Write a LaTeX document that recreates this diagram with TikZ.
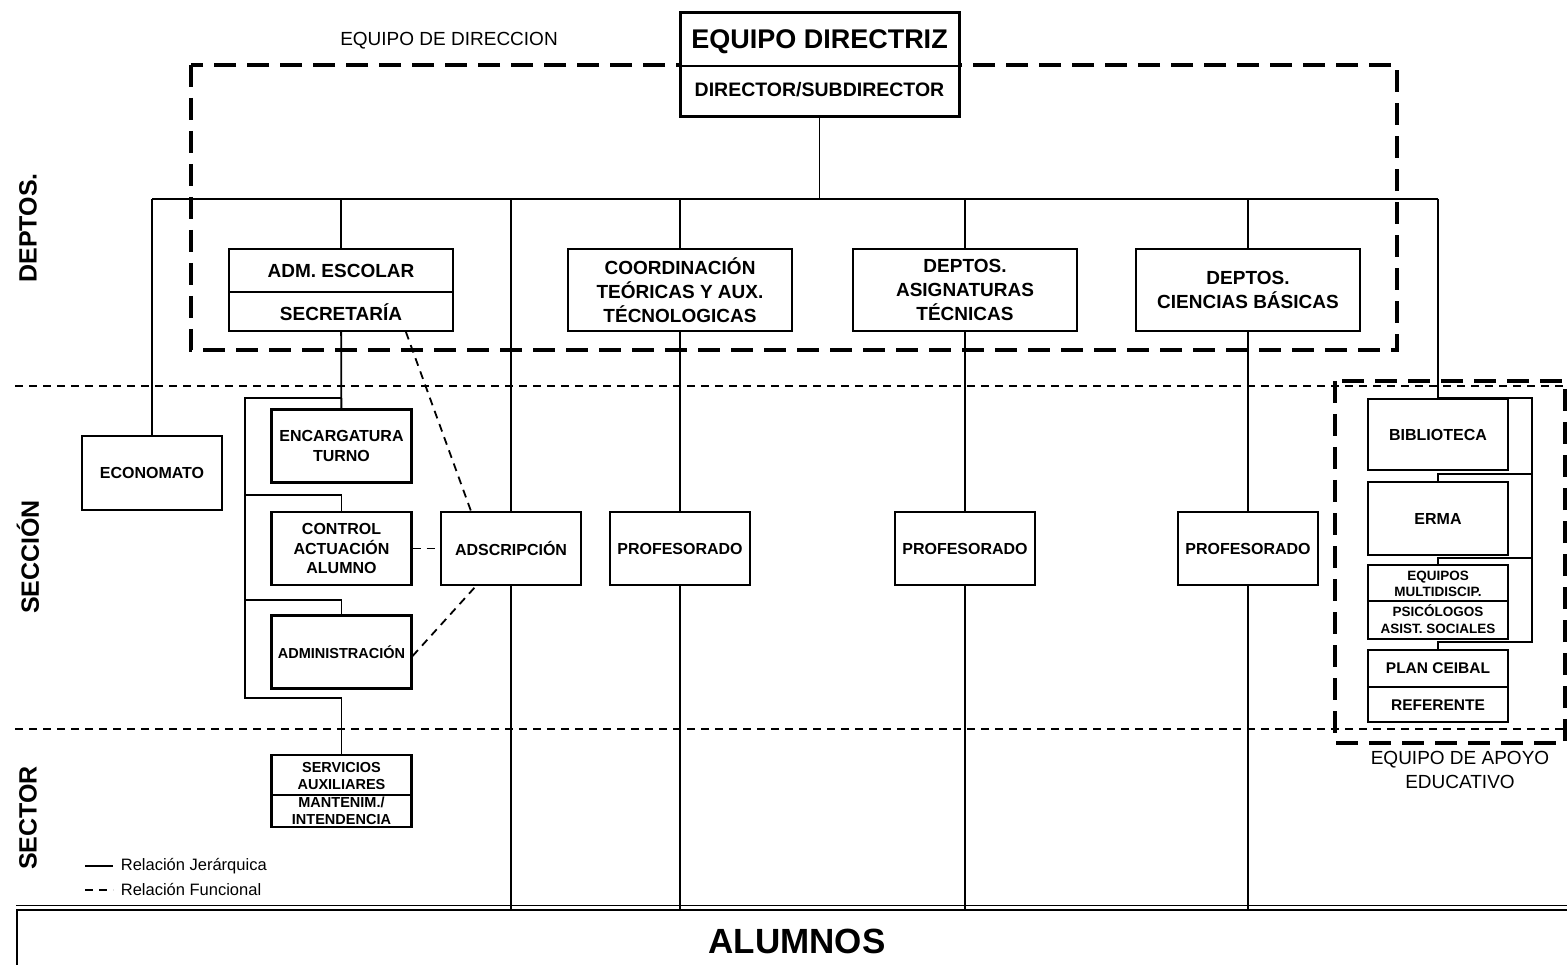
\documentclass[tikz,border=0pt]{standalone}
\usepackage{fontspec}
\setmainfont{Liberation Sans}
\usetikzlibrary{positioning, shapes}

\begin{document}
\begin{tikzpicture}[x=1pt, y=-1pt,
	dbox/.style={draw, line width=1.8pt, fill=white, inner sep=0pt, align=center, minimum width=224pt, minimum height=82pt, font=\bfseries\fontsize{19}{24}\selectfont},
	sbox/.style={draw, line width=2.2pt, fill=white, inner sep=0pt, align=center, minimum width=140pt, minimum height=73pt, font=\bfseries\fontsize{16}{19.5}\selectfont},
	stext/.style={inner sep=0pt, align=center, font=\bfseries\fontsize{14.5}{17.5}\selectfont},
	jer/.style={line width=1.8pt},
	fun/.style={line width=1.8pt, dash pattern=on 8pt off 6pt},
	bigdash/.style={line width=3.5pt, dash pattern=on 22pt off 11pt},
	level/.style={line width=1.3pt, dash pattern=on 8pt off 6pt},
	lvl/.style={rotate=90, font=\bfseries\fontsize{25}{25}\selectfont},
	legend/.style={right, inner sep=7pt, font=\fontsize{16.5}{16.5}\selectfont},
]

\useasboundingbox (0,0) rectangle (1567,965);

\def \busy{199}
\def \brkx{245}

% levels
\draw[level] (15,386) -- (1567,386); % deptos / seccion
\draw[level] (15,729) -- (1567,729); % seccion / sector

\node[lvl] (lvdeptos) at (28,228) {DEPTOS.};
\node[lvl] (lvseccion) at (28,557) {SECCIÓN};
\node[lvl] (lvsector) at (28,818) {SECTOR};

% equipo de direccion
\draw[bigdash] (191,65) rectangle (1397,350);
\node[font=\fontsize{19}{19}\selectfont] (eqdir) at (449,41) {EQUIPO DE DIRECCION};

\node[draw, line width=3pt, fill=white, minimum width=279pt, minimum height=104pt] (dir) at (819.5,65) {};
\draw[line width=1.8pt] (dir.west |- 0,66) -- (dir.east |- 0,66);
\node[font=\bfseries\fontsize{27}{27}\selectfont] (dirt) at (819.5,42) {EQUIPO DIRECTRIZ};
\node[font=\bfseries\fontsize{19.5}{19.5}\selectfont] (dirs) at (819.5,90) {DIRECTOR/SUBDIRECTOR};

\coordinate (busL) at (152,\busy);
\coordinate (busR) at (1438,\busy);

% deptos
\node[dbox] (adm) at (341,290) {};
\draw[line width=1.8pt] (adm.west |- 0,292) -- (adm.east |- 0,292);
\node[font=\bfseries\fontsize{19}{19}\selectfont] (admt) at (341,271) {ADM. ESCOLAR};
\node[font=\bfseries\fontsize{19}{19}\selectfont] (secr) at (341,312) {SECRETARÍA};
\node[dbox] (coord) at (680,290) {COORDINACIÓN\\TEÓRICAS Y AUX.\\TÉCNOLOGICAS};
\node[dbox] (asig) at (965,290) {DEPTOS.\\ASIGNATURAS\\TÉCNICAS};
\node[dbox] (cien) at (1248,290) {DEPTOS.\\CIENCIAS BÁSICAS};

% seccion
\node[sbox, minimum height=74pt] (econ) at (152,473) {ECONOMATO};
\node[sbox] (enc) at (341.5,446) {ENCARGATURA\\TURNO};
\node[sbox] (ctrl) at (341.5,548.5) {CONTROL\\ACTUACIÓN\\ALUMNO};
\node[sbox, font=\bfseries\fontsize{14.5}{19.5}\selectfont] (admin) at (341.5,652) {ADMINISTRACIÓN};
\node[sbox] (adsc) at (511,548.5) {ADSCRIPCIÓN};
\foreach \px/\pn in {680/1, 965/2, 1248/3}
	\node[sbox] (prof\pn) at (\px,548.5) {PROFESORADO};

% sector
\node[sbox, minimum height=72pt] (srv) at (341.5,791) {};
\draw[line width=1.8pt] (srv.west |- 0,795) -- (srv.east |- 0,795);
\node[stext] (srvt) at (341.5,776) {SERVICIOS\\AUXILIARES};
\node[stext] (mant) at (341.5,811) {MANTENIM./\\INTENDENCIA};

% alumnos
\node[draw, line width=2.2pt, minimum width=1560pt, minimum height=62pt, font=\bfseries\fontsize{35}{35}\selectfont] (alum) at (797,941) {ALUMNOS};
\draw[line width=1pt] ([yshift=3.5pt]alum.north west) -- ([yshift=3.5pt]alum.north east);

% equipo de apoyo educativo
\draw[bigdash] (1335,381) rectangle (1565,743);
\node[sbox, minimum height=71pt] (biblio) at (1438,434.5) {BIBLIOTECA};
\node[sbox] (erma) at (1438,518.5) {ERMA};
\node[sbox, minimum height=74pt] (equip) at (1438,602) {};
\draw[line width=1.8pt] (equip.west |- 0,601) -- (equip.east |- 0,601);
\node[stext, font=\bfseries\fontsize{13.5}{16.5}\selectfont] (equipt) at (1438,584) {EQUIPOS\\MULTIDISCIP.};
\node[stext, font=\bfseries\fontsize{13.5}{16.5}\selectfont] (psico) at (1438,619) {PSICÓLOGOS\\ASIST. SOCIALES};
\node[sbox, minimum height=72pt] (plan) at (1438,686) {};
\draw[line width=1.8pt] (plan.west |- 0,687) -- (plan.east |- 0,687);
\node[stext, font=\bfseries\fontsize{15.5}{15.5}\selectfont] (plant) at (1438,668) {PLAN CEIBAL};
\node[stext, font=\bfseries\fontsize{15.5}{15.5}\selectfont] (refe) at (1438,705) {REFERENTE};
\node[align=center, font=\fontsize{19}{24}\selectfont] (apoyo) at (1460,770) {EQUIPO DE APOYO\\EDUCATIVO};

% relaciones jerarquicas
\draw[jer] (dir) -- (dir |- busL);
\draw[jer] (busL) -- (busR);
\draw[jer] (busL) -- (econ);
\draw[jer] (adm |- busL) -- (adm);
\draw[jer] (adm) -- (enc);
\coordinate (brk) at (\brkx,398);
\coordinate (brkB) at (\brkx,698);
\draw[jer] (enc.north |- brk) -- (brk) -- (brkB) -| (srv.north);
\draw[jer] (brk |- 0,495) -| (ctrl.north);
\draw[jer] (brk |- 0,600) -| (admin.north);
\draw[jer] (adsc |- busL) -- (adsc);
\draw[jer] (adsc) -- (adsc |- alum.north);
\foreach \d/\pn in {coord/1, asig/2, cien/3} {
	\draw[jer] (\d |- busL) -- (\d);
	\draw[jer] (\d) -- (prof\pn);
	\draw[jer] (prof\pn) -- (prof\pn |- alum.north);
}
\coordinate (apR) at (1532,398);
\draw[jer] (busR) |- (apR) -- (apR |- 0,642) -| (plan.north);
\draw[jer] (apR |- 0,474) -| (erma.north);
\draw[jer] (apR |- 0,558) -| (equip.north);

% relaciones funcionales
\draw[fun] ([xshift=-48pt]adm.south east) -- ([xshift=31pt]adsc.north west);
\draw[fun] (ctrl) -- (adsc);
\draw[fun] ([yshift=-4pt]admin.east) -- ([xshift=36pt]adsc.south west);

% leyenda
\draw[jer] (85,866) -- (113,866) node[legend] (ljer) {Relación Jerárquica};
\draw[fun] (85,890) -- (113,890) node[legend] (lfun) {Relación Funcional};

\end{tikzpicture}
\end{document}
